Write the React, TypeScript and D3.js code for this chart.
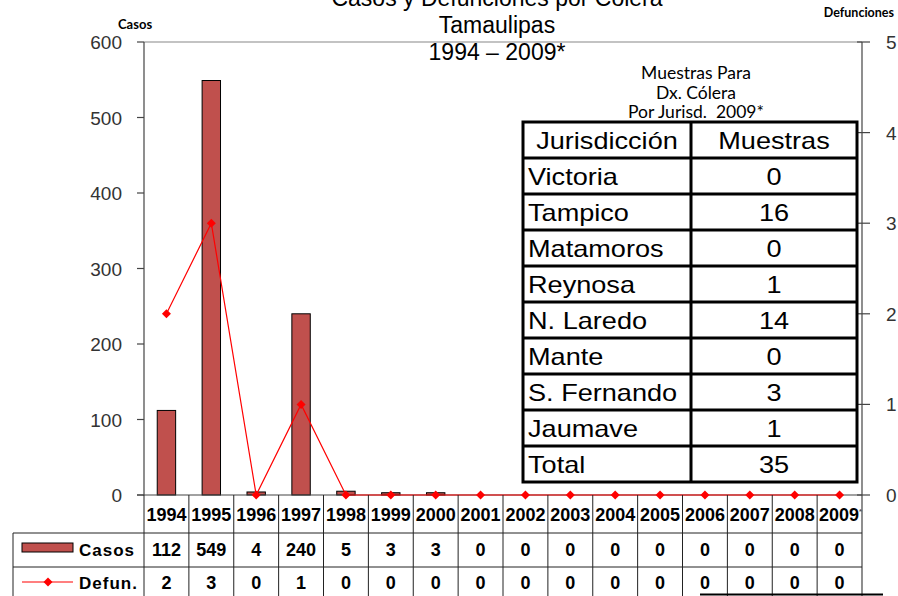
import React from "react";
import * as d3 from "d3";

const years = ["1994","1995","1996","1997","1998","1999","2000","2001","2002","2003","2004","2005","2006","2007","2008","2009"];
const casos = [112,549,4,240,5,3,3,0,0,0,0,0,0,0,0,0];
const defun = [2,3,0,1,0,0,0,0,0,0,0,0,0,0,0,0];
const leftTicks = [0,100,200,300,400,500,600];
const rightTicks = [0,1,2,3,4,5];
const titleLines = ["Casos y Defunciones por Cólera","Tamaulipas","1994 – 2009*"];
const insetTitle = ["Muestras Para","Dx. Cólera","Por Jurisd.\u00A0 2009*"];
const jurisdicciones = ["Victoria","Tampico","Matamoros","Reynosa","N. Laredo","Mante","S. Fernando","Jaumave","Total"];
const muestras = [0,16,0,1,14,0,3,1,35];

const W = 898, H = 596;
const PL = 144, PR = 862, PT = 42, PB = 495;

export default function App() {
  const x = d3.scaleBand<string>().domain(years).range([PL, PR]).padding(0);
  const step = x.step();
  const barW = step * 0.41;
  const yL = d3.scaleLinear().domain([0, 600]).range([PB, PT]);
  const yR = d3.scaleLinear().domain([0, 5]).range([PB, PT]);
  const line = d3.line<number>().x((_, i) => x(years[i])! + step / 2).y(d => yR(d));
  const diamond = (cx: number, cy: number, r = 4.5) =>
    `M${cx},${cy - r}L${cx + r},${cy}L${cx},${cy + r}L${cx - r},${cy}Z`;

  const axisFont = "'Liberation Sans', Arial, sans-serif";
  const calFont = "Lato, 'Open Sans', sans-serif";

  const tL = 523, tM = 691, tR = 857, tT = 122, rowH = 36;
  const rowsN = jurisdicciones.length + 1;

  const rowY1 = 533, rowY2 = 567, legL = 13;

  return (
    <svg width={W} height={H} style={{ position: "absolute", left: 0, top: 0, background: "#fff" }}>
      <rect width={W} height={H} fill="#fff" />
      {titleLines.map((t, i) => (
        <text key={t} x={497} y={6 + i * 27} textAnchor="middle" fontFamily={axisFont} fontSize={23} fill="#000">{t}</text>
      ))}
      <text x={118} y={29} fontFamily={calFont} fontWeight={700} fontSize={13} fill="#000">Casos</text>
      <text x={894} y={17} textAnchor="end" fontFamily={calFont} fontWeight={700} fontSize={12.5} fill="#000">Defunciones</text>

      <line x1={PL} x2={PR} y1={PT} y2={PT} stroke="#888" strokeWidth={1.2} />
      <line x1={PL} x2={PL} y1={PT} y2={PB} stroke="#444" strokeWidth={1.2} />
      {leftTicks.map(t => (
        <g key={t}>
          <line x1={PL - 7} x2={PL} y1={yL(t)} y2={yL(t)} stroke="#444" strokeWidth={1.2} />
          <text x={122} y={yL(t) + 7} textAnchor="end" fontFamily={axisFont} fontSize={19} fill="#333">{t}</text>
        </g>
      ))}
      <line x1={PR} x2={PR} y1={PT} y2={H} stroke="#444" strokeWidth={1.2} />
      {rightTicks.map(t => (
        <g key={t}>
          <line x1={PR - 5} x2={PR + 8} y1={yR(t)} y2={yR(t)} stroke="#444" strokeWidth={1.2} />
          <text x={886} y={yR(t) + 7} fontFamily={axisFont} fontSize={19} fill="#333">{t}</text>
        </g>
      ))}

      {casos.map((v, i) => (
        <rect key={years[i]} x={x(years[i])! + (step - barW) / 2} y={yL(v)} width={barW} height={PB - yL(v)}
          fill="#C0504D" stroke="#000" strokeWidth={1} />
      ))}
      <line x1={PL - 7} x2={PR} y1={PB} y2={PB} stroke="#444" strokeWidth={1.2} />

      <path d={line(defun)!} fill="none" stroke="#FF0000" strokeWidth={1.2} />
      {defun.map((v, i) => (
        <path key={years[i]} d={diamond(x(years[i])! + step / 2, yR(v))} fill="#FF0000" />
      ))}

      {insetTitle.map((t, i) => (
        <text key={t} x={696} y={79 + i * 19.5} textAnchor="middle" fontFamily={calFont} fontSize={17.5} fill="#000">{t}</text>
      ))}
      <rect x={tL} y={tT} width={tR - tL} height={rowH * rowsN} fill="#fff" stroke="#000" strokeWidth={3} />
      {d3.range(1, rowsN).map(k => (
        <line key={k} x1={tL} x2={tR} y1={tT + k * rowH} y2={tT + k * rowH} stroke="#000" strokeWidth={3} />
      ))}
      <line x1={tM} x2={tM} y1={tT} y2={tT + rowH * rowsN} stroke="#000" strokeWidth={3} />
      <g fontFamily={axisFont} fontSize={24} fill="#000">
        <text transform={`translate(${(tL + tM) / 2},${tT + 27}) scale(1.13,1)`} textAnchor="middle">Jurisdicción</text>
        <text transform={`translate(${(tM + tR) / 2},${tT + 27}) scale(1.13,1)`} textAnchor="middle">Muestras</text>
        {jurisdicciones.map((j, i) => (
          <g key={j}>
            <text transform={`translate(${tL + 5},${tT + (i + 1) * rowH + 27}) scale(1.13,1)`}>{j}</text>
            <text transform={`translate(${(tM + tR) / 2},${tT + (i + 1) * rowH + 27}) scale(1.13,1)`} textAnchor="middle">{muestras[i]}</text>
          </g>
        ))}
      </g>

      <g stroke="#222" strokeWidth={1}>
        {years.map(yv => (
          <line key={yv} x1={x(yv)!} x2={x(yv)!} y1={PB} y2={H} />
        ))}
        <line x1={legL} x2={PR} y1={rowY1} y2={rowY1} />
        <line x1={legL} x2={PR} y1={rowY2} y2={rowY2} />
        <line x1={legL} x2={legL} y1={rowY1} y2={H} />
      </g>
      <line x1={700} x2={883} y1={594.5} y2={594.5} stroke="#000" strokeWidth={2} />
      <g fontFamily={axisFont} fontWeight={700} fontSize={18} fill="#000" textAnchor="middle">
        {years.map((yv, i) => (
          <text key={yv} x={x(yv)! + step / 2 + (i === years.length - 1 ? 1 : 0)} y={521}>
            {yv}{i === years.length - 1 ? <tspan fontSize={8} dy={-7} fill="#555">*</tspan> : null}
          </text>
        ))}
        {casos.map((v, i) => (
          <text key={"c" + i} x={x(years[i])! + step / 2} y={556}>{v}</text>
        ))}
        {defun.map((v, i) => (
          <text key={"d" + i} x={x(years[i])! + step / 2} y={589}>{v}</text>
        ))}
      </g>
      <rect x={22} y={543} width={51} height={9} fill="#C0504D" stroke="#000" strokeWidth={1} />
      <line x1={22} x2={73} y1={582} y2={582} stroke="#FF0000" strokeWidth={1.2} />
      <path d={diamond(48, 582)} fill="#FF0000" />
      <g fontFamily={axisFont} fontWeight={700} fontSize={17} fill="#000" letterSpacing={1}>
        <text x={79} y={556}>Casos</text>
        <text x={79} y={589}>Defun.</text>
      </g>
    </svg>
  );
}
